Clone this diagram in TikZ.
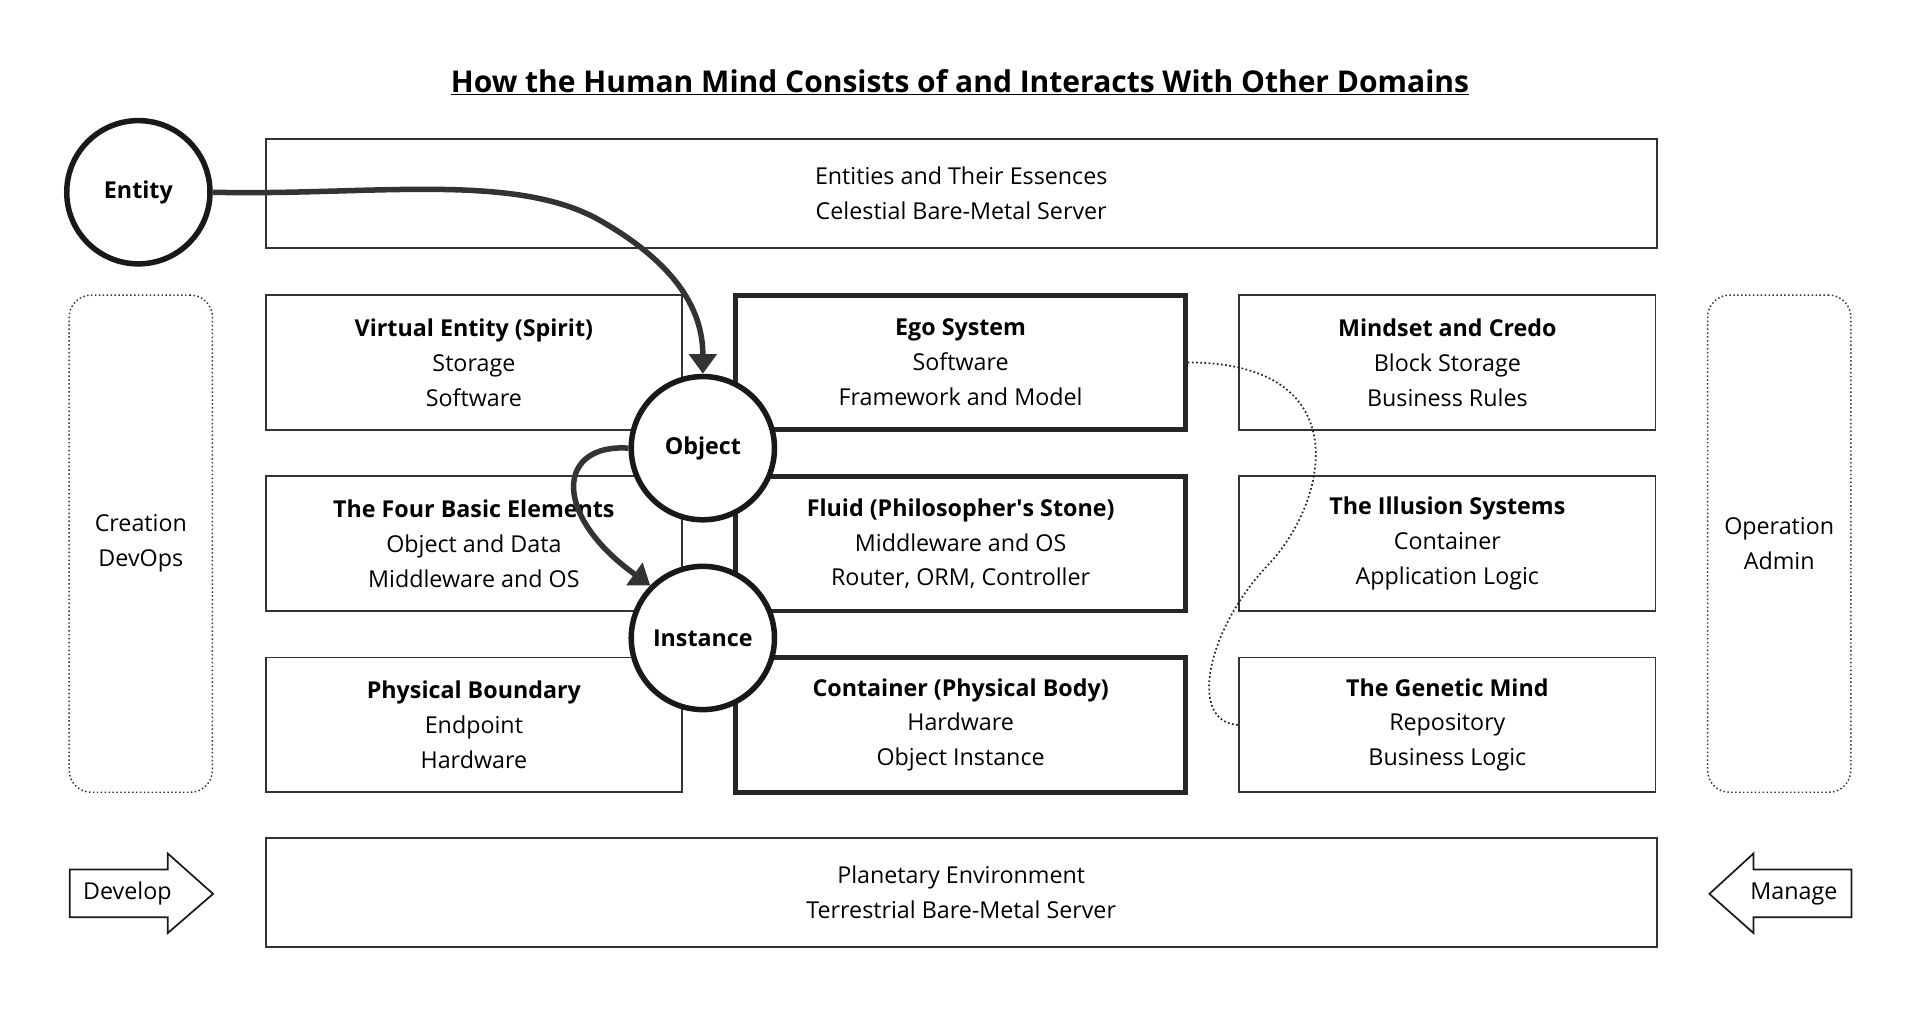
\documentclass[tikz,border=0pt]{standalone}
\usepackage{fontspec}
\setmainfont{Open Sans}
\usetikzlibrary{shapes,arrows,arrows.meta,positioning}
\tikzstyle{box} = [draw=black!80, line width=1.5pt, minimum width=340pt, minimum height=110pt, align=center, font=\fontsize{19}{28.5}\selectfont, inner sep=0pt]
\tikzstyle{core} = [box, draw=black!85, line width=4pt, minimum width=367pt]
\tikzstyle{wide} = [box, minimum width=1136pt, minimum height=89pt]
\tikzstyle{side} = [draw=black!80, dotted, line width=1.2pt, rounded corners=18pt, minimum width=117pt, minimum height=406pt, align=center, font=\fontsize{19}{28.5}\selectfont]
\tikzstyle{state} = [circle, draw=black!90, line width=4.5pt, fill=white, minimum size=117pt, inner sep=0pt, font=\bfseries\fontsize{19}{22}\selectfont]
\tikzstyle{flow} = [draw=black!80, line width=4.5pt, -{Triangle[length=16pt,width=22pt]}]
\tikzstyle{blockarrow} = [draw=black!90, line width=1.4pt, fill=white]
\tikzstyle{lbl} = [font=\fontsize{19}{22}\selectfont]
\begin{document}
\begin{tikzpicture}[x=1pt, y=-1pt]
\useasboundingbox (0,0) rectangle (1568,827);

\node[font=\bfseries\fontsize{24.5}{28}\selectfont] (title) at (784,67) {\underline{How the Human Mind Consists of and Interacts With Other Domains}};

% domains ====================================
\node[wide] (heaven) at (785,158) {Entities and Their Essences\\Celestial Bare-Metal Server};
\node[wide] (earth) at (785,729) {Planetary Environment\\Terrestrial Bare-Metal Server};

\node[side] (creation) at (115,444) {Creation\\DevOps};
\node[side] (operation) at (1453,444) {Operation\\Admin};

% left column
\node[box] (spirit) at (387,296) {\textbf{Virtual Entity (Spirit)}\\Storage\\Software};
\node[box] (elements) at (387,444) {\textbf{The Four Basic Elements}\\Object and Data\\Middleware and OS};
\node[box] (boundary) at (387,592) {\textbf{Physical Boundary}\\Endpoint\\Hardware};

% middle column
\node[core] (ego) at (784.5,296) {\textbf{Ego System}\\Software\\Framework and Model};
\node[core] (fluid) at (784.5,444) {\textbf{Fluid (Philosopher\textquotesingle s Stone)}\\Middleware and OS\\Router, ORM, Controller};
\node[core] (body) at (784.5,592) {\textbf{Container (Physical Body)}\\Hardware\\Object Instance};

% right column
\node[box] (credo) at (1182,296) {\textbf{Mindset and Credo}\\Block Storage\\Business Rules};
\node[box] (illusion) at (1182,444) {};
\node[box] (genetic) at (1182,592) {\textbf{The Genetic Mind}\\Repository\\Business Logic};

% dotted link
\draw[black!85, dotted, line width=1.4pt] (ego.east) .. controls (1110,296) and (1085,410) .. (1035,462) .. controls (985,515) and (970,590) .. (genetic.west);
\node[lbl, align=center, font=\fontsize{19}{28.5}\selectfont] (illusiontext) at (1182,444) {\textbf{The Illusion Systems}\\Container\\Application Logic};

% states =====================================
\node[state] (entity) at (113,157) {Entity};
\node[state] (object) at (574,366) {Object};
\node[state] (instance) at (574,521) {Instance};

% edges
\draw[flow] (entity.east) .. controls (300,160) and (420,140) .. (490,180) .. controls (560,220) and (574,260) .. (object.north);
\draw[flow] (object.west) .. controls (455,362) and (450,420) .. (instance.north west);

% develop / manage
\draw[blockarrow] (57,710) -- (137,710) -- (137,697) -- (174,730) -- (137,762) -- (137,749) -- (57,749) -- cycle;
\node[lbl] (develop) at (104,730) {Develop};
\draw[blockarrow] (1512,710) -- (1432,710) -- (1432,697) -- (1396,730) -- (1432,762) -- (1432,749) -- (1512,749) -- cycle;
\node[lbl] (manage) at (1465,730) {Manage};

\end{tikzpicture}
\end{document}
